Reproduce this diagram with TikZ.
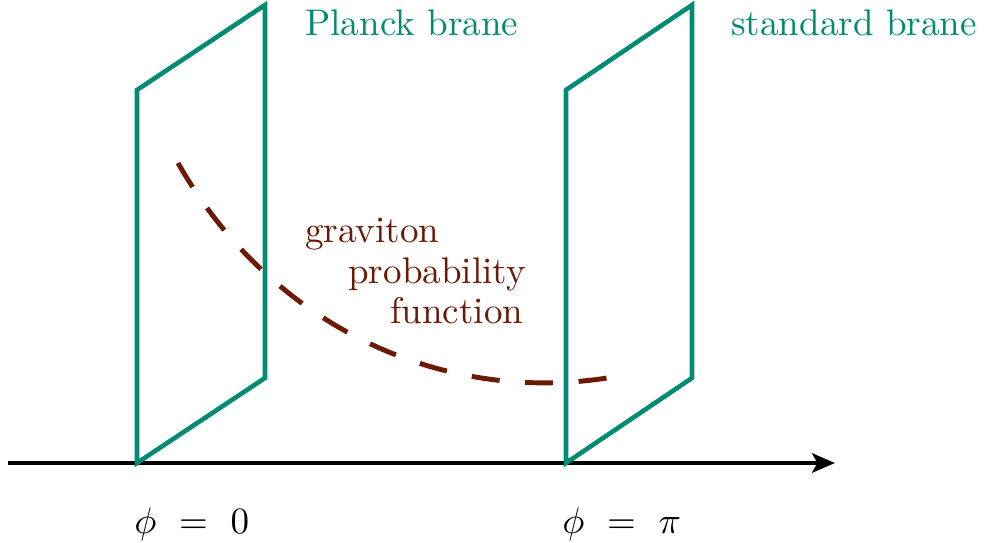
\documentclass[tikz,border=0pt]{standalone}
\definecolor{branegreen}{HTML}{008B72}
\definecolor{gravbrown}{HTML}{6B1A06}
\usepackage{tikz}
\usepackage{graphicx}
\usetikzlibrary{arrows.meta, positioning}
\usepackage{xcolor}
\newcommand{\biglbl}[1]{\scalebox{2.11}{#1}}

\begin{document}
\begin{tikzpicture}[x=0.02cm, y=-0.02cm,
    brane/.style={draw=branegreen, line width=2.6pt},
    lbl/.style={anchor=base west, inner sep=0pt, font=\fontsize{10}{12}\selectfont}]
    \useasboundingbox (0,0) rectangle (985,543);
    % axis
    \coordinate (axisL) at (8,463);
    \coordinate (axisR) at (835,463);
    \draw[line width=2.3pt, -{Stealth[length=13pt, width=11pt, inset=3pt]}] (axisL) -- (axisR);
    % Planck brane
    \coordinate (pBL) at (137,463);
    \coordinate (pTL) at (137,90);
    \coordinate (pTR) at (265,5);
    \coordinate (pBR) at (265,378);
    \draw[brane] (pBL) -- (pTL) -- (pTR) -- (pBR) -- cycle;
    % standard brane
    \coordinate (sBL) at (566,463);
    \coordinate (sTL) at (566,90);
    \coordinate (sTR) at (692,5);
    \coordinate (sBR) at (692,378);
    \draw[brane] (sBL) -- (sTL) -- (sTR) -- (sBR) -- cycle;
    \node[lbl, text=branegreen] (planck) at (305,36) {\biglbl{Planck brane}};
    \node[lbl, text=branegreen] (standard) at (731,36) {\biglbl{standard brane}};
    % graviton profile
    \coordinate (gStart) at (178,163);
    \coordinate (gEnd) at (607,378);
    \draw[gravbrown, line width=2.8pt, dash pattern=on 16pt off 14.5pt]
      (gStart) .. controls (270,325) and (440,404) .. (gEnd);
    \node[lbl, text=gravbrown] (grav) at (305,243) {\biglbl{graviton}};
    \node[lbl, text=gravbrown] (prob) at (348,284) {\biglbl{probability}};
    \node[lbl, text=gravbrown] (func) at (390,324) {\biglbl{function}};
    % positions
    \node[lbl] (phiZero) at (134,534) {\biglbl{$\phi\ =\ 0$}};
    \node[lbl] (phiPi) at (562,534) {\biglbl{$\phi\ =\ \pi$}};
  \end{tikzpicture}
\end{document}
